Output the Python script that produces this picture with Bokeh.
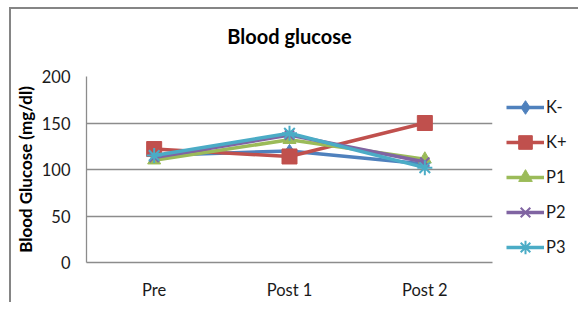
from bokeh.plotting import figure
from bokeh.models import Legend, LegendItem, FixedTicker, Title
from bokeh.embed import file_html
from bokeh.resources import INLINE

categories = ["Pre", "Post 1", "Post 2"]
series_names = ["K-", "K+", "P1", "P2", "P3"]
k_minus = [115, 120, 106]
k_plus = [122, 114, 150]
p1 = [110, 132, 111]
p2 = [113, 137, 108]
p3 = [115, 139, 102]
y_ticks = [0, 50, 100, 150, 200]

series_values = [k_minus, k_plus, p1, p2, p3]
colors = ["#4F81BD", "#C0504D", "#9BBB59", "#8064A2", "#4BACC6"]
markers = ["diamond", "square", "triangle", "x", "asterisk"]
sizes = [13, 15, 13, 13, 15]

FONT = "Lato"

p = figure(x_range=categories, y_range=(0, 200), frame_width=406, frame_height=186,
           output_backend="svg", toolbar_location=None,
           min_border_left=70, min_border_right=10, min_border_top=67,
           min_border_bottom=36,
           styles={"border-left": "2px solid #858585", "border-top": "2px solid #858585",
                   "margin-left": "9px", "margin-top": "7px"})
p.title = Title(text="Blood glucose\n", align="center", text_font=FONT,
                text_font_size="20px", text_font_style="bold",
                text_color="#000000", offset=-5, standoff=6,
                vertical_align="top")
p.x_range.range_padding = 0

p.outline_line_color = None
p.xgrid.grid_line_color = None
p.ygrid.grid_line_color = "#8c8c8c"
p.ygrid.grid_line_width = 1.3
p.yaxis.ticker = FixedTicker(ticks=y_ticks)

for ax in (p.xaxis, p.yaxis):
    ax.axis_line_color = "#8c8c8c"
    ax.axis_line_width = 1.3
    ax.major_tick_line_color = None
    ax.minor_tick_line_color = None
    ax.major_tick_out = 0
    ax.major_tick_in = 0
    ax.minor_tick_out = 0
    ax.minor_tick_in = 0
    ax.major_label_text_font = FONT
    ax.major_label_text_font_size = "16.5px"
    ax.major_label_text_color = "#1a1a1a"

p.yaxis.major_label_standoff = 16
p.xaxis.major_label_standoff = 17
p.yaxis.axis_label = "Blood Glucose (mg/dl)"
p.yaxis.axis_label_text_font = FONT
p.yaxis.axis_label_text_font_size = "17px"
p.yaxis.axis_label_text_font_style = "bold"
p.yaxis.axis_label_text_color = "#000000"
p.yaxis.axis_label_standoff = 3

items = []
for name, vals, c, m, s in zip(series_names, series_values, colors, markers, sizes):
    ln = p.line(categories, vals, line_color=c, line_width=3.5)
    sc = p.scatter(categories, vals, marker=m, size=s, fill_color=c,
                   line_color=c, line_width=2 if m in ("x", "asterisk") else 1)
    items.append(LegendItem(label=name, renderers=[ln, sc]))

legend = Legend(items=items, location="top_left", orientation="vertical",
                glyph_width=38, glyph_height=34, label_height=34,
                spacing=1, padding=0, margin=14, label_standoff=2,
                label_text_font=FONT, label_text_font_size="16.5px",
                label_text_color="#1a1a1a", border_line_color=None,
                background_fill_alpha=0)
p.add_layout(legend, "right")

open("out.html", "w").write(file_html(p, INLINE))
